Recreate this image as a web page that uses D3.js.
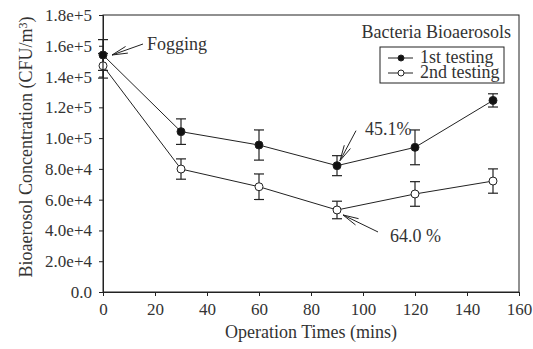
<!DOCTYPE html>
<html lang="en">
<head>
<meta charset="UTF-8">
<title>Bacteria Bioaerosols</title>
<script src="https://d3js.org/d3.v7.min.js"></script>
<style>
  body { margin: 0; background: #fff; }
  text { font-family: "Liberation Serif", "Times New Roman", serif; fill: #333; }
</style>
</head>
<body>
<div id="chart"></div>
<script>
// data
const times = [0, 30, 60, 90, 120, 150];
const first = [154000, 104200, 95500, 82100, 94000, 124500];
const firstErr = [10000, 8300, 9800, 6500, 11300, 4300];
const second = [147000, 79900, 68400, 53300, 63700, 72100];
const secondErr = [8000, 6600, 8300, 5700, 8000, 7900];
const xTicks = [0, 20, 40, 60, 80, 100, 120, 140, 160];
const yTicks = [0, 20000, 40000, 60000, 80000, 100000, 120000, 140000, 160000, 180000];
const yTickLabels = ["0.0", "2.0e+4", "4.0e+4", "6.0e+4", "8.0e+4", "1.0e+5", "1.2e+5", "1.4e+5", "1.6e+5", "1.8e+5"];

const W = 533, H = 349;
const margin = {top: 15, right: 14, bottom: 57, left: 103};
const width = W - margin.left - margin.right,
      height = H - margin.top - margin.bottom;

const svg = d3.select("#chart").append("svg")
    .attr("width", W).attr("height", H);
const g = svg.append("g")
    .attr("transform", `translate(${margin.left},${margin.top})`);

const x = d3.scaleLinear().domain([0, 160]).range([0, width]);
const y = d3.scaleLinear().domain([0, 180000]).range([height, 0]);

// frame
g.append("rect")
    .attr("width", width).attr("height", height)
    .attr("fill", "none").attr("stroke", "#222").attr("stroke-width", 1);

// axes
const xAxis = g.append("g")
    .attr("transform", `translate(0,${height})`)
    .call(d3.axisBottom(x).tickValues(xTicks).tickSize(4).tickPadding(7).tickFormat(d3.format("d")));
const yAxis = g.append("g")
    .call(d3.axisLeft(y).tickValues(yTicks).tickSize(4).tickPadding(7)
        .tickFormat((d, i) => yTickLabels[i]));
[xAxis, yAxis].forEach(a => {
    a.select(".domain").attr("stroke", "#222");
    a.selectAll(".tick line").attr("stroke", "#222");
    a.selectAll("text").style("font-size", "17px").attr("fill", "#333");
});

// axis titles
svg.append("text")
    .attr("x", margin.left + width / 2).attr("y", 338)
    .attr("text-anchor", "middle").style("font-size", "18px")
    .text("Operation Times (mins)");
const yt = svg.append("text")
    .attr("transform", `translate(32,${margin.top + 132}) rotate(-90)`)
    .attr("text-anchor", "middle").style("font-size", "18px");
yt.append("tspan").text("Bioaerosol Concentration (CFU/m");
yt.append("tspan").attr("dy", "-0.45em").style("font-size", "12px").text("3");
yt.append("tspan").attr("dy", "0.3em").text(")");

const line = d3.line().x((d, i) => x(times[i])).y(d => y(d));

function drawSeries(vals, errs, fill) {
    g.append("path").datum(vals)
        .attr("d", line).attr("fill", "none")
        .attr("stroke", "#222").attr("stroke-width", 1);
    const eb = g.append("g").attr("stroke", "#222").attr("stroke-width", 1.2);
    vals.forEach((v, i) => {
        const cx = x(times[i]);
        eb.append("line").attr("x1", cx).attr("x2", cx)
            .attr("y1", y(v - errs[i])).attr("y2", y(v + errs[i]));
        [v - errs[i], v + errs[i]].forEach(e => {
            eb.append("line").attr("x1", cx - 5).attr("x2", cx + 5)
                .attr("y1", y(e)).attr("y2", y(e));
        });
    });
    g.selectAll(null).data(vals).join("circle")
        .attr("cx", (d, i) => x(times[i])).attr("cy", d => y(d))
        .attr("r", 4).attr("fill", fill)
        .attr("stroke", "#222").attr("stroke-width", 1);
}
drawSeries(second, secondErr, "#fff");
drawSeries(first, firstErr, "#111");

// open arrow: tail (x1,y1) -> tip (x2,y2)
function arrow(x1, y1, x2, y2) {
    const a = Math.atan2(y1 - y2, x1 - x2), len = 16, spread = 0.22;
    g.append("line").attr("x1", x1).attr("y1", y1).attr("x2", x2).attr("y2", y2)
        .attr("stroke", "#222");
    [-spread, spread].forEach(s => {
        g.append("line").attr("x1", x2).attr("y1", y2)
            .attr("x2", x2 + len * Math.cos(a + s)).attr("y2", y2 + len * Math.sin(a + s))
            .attr("stroke", "#222");
    });
}

// annotations
arrow(x(0) + 40, y(first[0]) - 11, x(0) + 9, y(first[0]));
g.append("text").attr("x", x(0) + 44).attr("y", y(first[0]) - 5)
    .style("font-size", "18px").text("Fogging");

arrow(x(90) + 19, y(first[3]) - 35, x(90) + 3, y(first[3]) - 5);
g.append("text").attr("x", x(90) + 28).attr("y", y(first[3]) - 31)
    .style("font-size", "18px").text("45.1%");

arrow(x(90) + 41, y(second[3]) + 22, x(90) + 6, y(second[3]) + 5);
g.append("text").attr("x", x(90) + 53).attr("y", y(second[3]) + 32)
    .style("font-size", "18px").text("64.0 %");

// legend
g.append("text").attr("x", width - 8).attr("y", 23)
    .attr("text-anchor", "end").style("font-size", "18px")
    .text("Bacteria Bioaerosols");
const lg = g.append("g").attr("transform", `translate(${380 - margin.left},${47 - margin.top})`);
lg.append("rect").attr("width", 124).attr("height", 36)
    .attr("fill", "#fff").attr("stroke", "#222");
[["1st testing", "#111"], ["2nd testing", "#fff"]].forEach(([lab, fill], i) => {
    const ly = 11 + i * 15;
    lg.append("line").attr("x1", 8).attr("x2", 33).attr("y1", ly).attr("y2", ly).attr("stroke", "#222");
    lg.append("circle").attr("cx", 21).attr("cy", ly).attr("r", 3)
        .attr("fill", fill).attr("stroke", "#222");
    lg.append("text").attr("x", 40).attr("y", ly + 5)
        .style("font-size", "18px").text(lab);
});
</script>
</body>
</html>
